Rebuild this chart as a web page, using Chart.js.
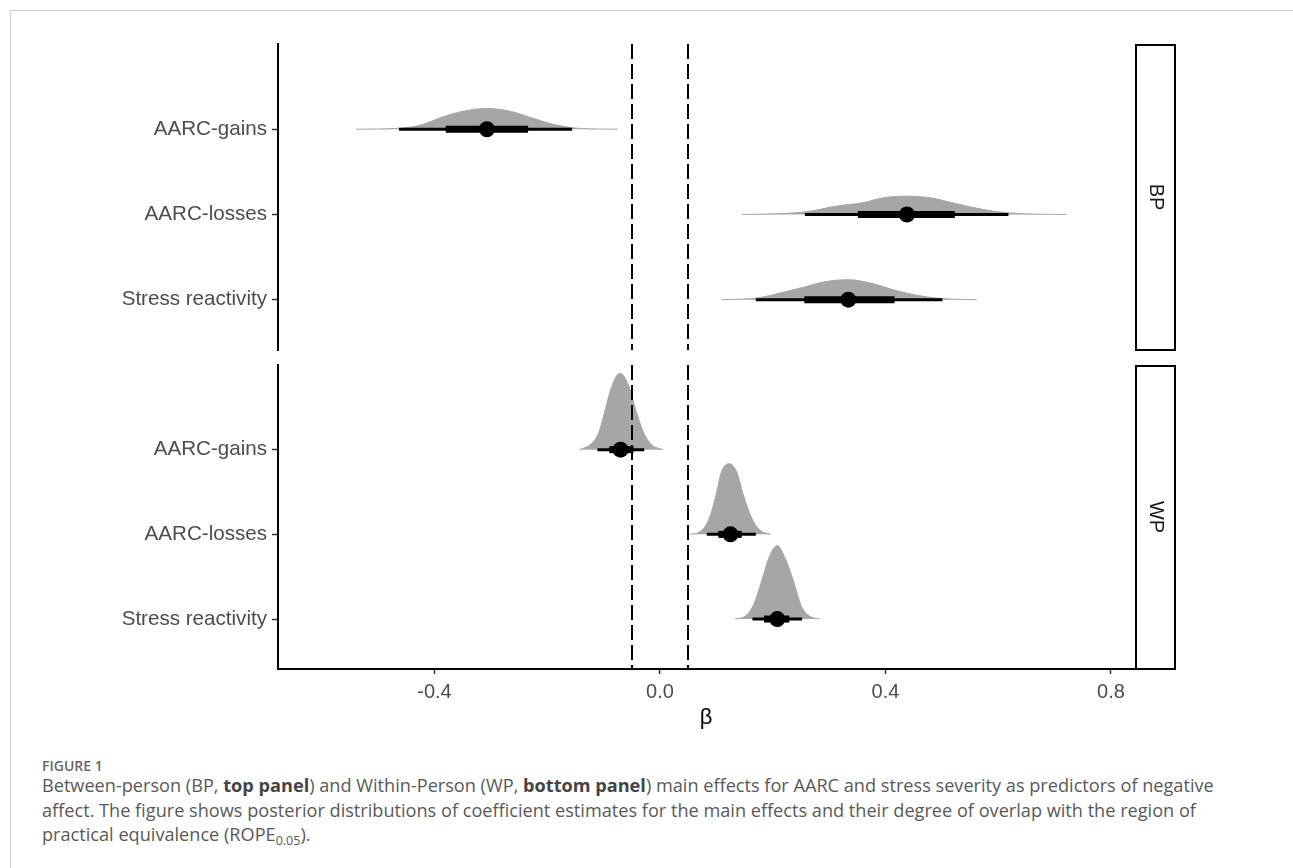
<!DOCTYPE html>
<html><head><meta charset="utf-8">
<script src="https://cdn.jsdelivr.net/npm/chart.js@4"></script>
<style>
body{margin:0;background:#fff;width:1293px;height:868px;overflow:hidden;position:relative;font-family:"Liberation Sans",Arial,sans-serif}
#frame{position:absolute;left:10px;top:10px;width:1300px;height:900px;border-left:1px solid #cfcfcf;border-top:1px solid #cfcfcf}
#c1{position:absolute;left:0;top:0}
#c2{position:absolute;left:0;top:355px}
#fig{position:absolute;left:42px;top:756px;font-family:"Open Sans";font-weight:600;font-size:14px;line-height:19px;color:#666;}
#cap{position:absolute;left:42px;top:773px;font-family:"Open Sans";font-size:18.15px;line-height:24.5px;color:#595959;white-space:nowrap}
#cap b{font-weight:700;color:#444}
#cap sub{font-size:12.5px;vertical-align:-4px;line-height:0}
</style></head>
<body>
<div id="frame"></div>
<canvas id="c1" width="1293" height="358"></canvas>
<canvas id="c2" width="1293" height="380"></canvas>
<div id="fig">FIGURE 1</div>
<div id="cap">Between-person (BP, <b>top panel</b>) and Within-Person (WP, <b>bottom panel</b>) main effects for AARC and stress severity as predictors of negative<br>affect. The figure shows posterior distributions of coefficient estimates for the main effects and their degree of overlap with the region of<br>practical equivalence (ROPE<sub>0.05</sub>).</div>
<script>
const categories = ["AARC-gains", "AARC-losses", "Stress reactivity"];
const catPos = [3, 2, 1];
const panels = ["BP", "WP"];
const xTicks = [-0.4, 0.0, 0.4, 0.8];
const xTickLabels = ["-0.4", "0.0", "0.4", "0.8"];
const xMin = -0.6776, xMax = 0.8408;
const rope = [-0.05, 0.05];

// BP posterior density outlines (x value, height as fraction of row spacing)
const bpGainsX = [-0.539, -0.461, -0.426, -0.385, -0.349, -0.307, -0.266, -0.231, -0.190, -0.147, -0.075];
const bpGainsH = [0, 0.012, 0.047, 0.145, 0.212, 0.244, 0.212, 0.141, 0.059, 0.012, 0];
const bpLossesX = [0.145, 0.207, 0.260, 0.313, 0.360, 0.396, 0.438, 0.479, 0.526, 0.573, 0.615, 0.668, 0.721];
const bpLossesH = [0, 0.008, 0.032, 0.098, 0.138, 0.196, 0.215, 0.196, 0.126, 0.059, 0.020, 0.004, 0];
const bpStressX = [0.109, 0.172, 0.213, 0.254, 0.290, 0.334, 0.373, 0.420, 0.467, 0.514, 0.562];
const bpStressH = [0, 0.020, 0.079, 0.145, 0.208, 0.235, 0.196, 0.106, 0.039, 0.008, 0];
// WP posterior density outlines
const wpGainsX = [-0.143, -0.124, -0.109, -0.098, -0.086, -0.071, -0.056, -0.044, -0.030, -0.015, 0.005];
const wpGainsH = [0, 0.059, 0.196, 0.447, 0.741, 0.902, 0.765, 0.491, 0.215, 0.059, 0];
const wpLossesX = [0.053, 0.071, 0.086, 0.098, 0.109, 0.123, 0.136, 0.148, 0.163, 0.177, 0.196];
const wpLossesH = [0, 0.032, 0.168, 0.424, 0.738, 0.835, 0.738, 0.462, 0.188, 0.051, 0];
const wpStressX = [0.133, 0.151, 0.166, 0.180, 0.195, 0.208, 0.222, 0.237, 0.251, 0.266, 0.283];
const wpStressH = [0, 0.032, 0.168, 0.444, 0.753, 0.867, 0.718, 0.444, 0.149, 0.032, 0];

// point estimates and intervals (66% inner, 95% outer)
const bpMedian = [-0.307, 0.438, 0.334];
const bpInnerLo = [-0.380, 0.351, 0.256];
const bpInnerHi = [-0.234, 0.523, 0.416];
const bpOuterLo = [-0.463, 0.257, 0.170];
const bpOuterHi = [-0.156, 0.618, 0.501];
const wpMedian = [-0.070, 0.125, 0.208];
const wpInnerLo = [-0.090, 0.1035, 0.1845];
const wpInnerHi = [-0.047, 0.145, 0.2295];
const wpOuterLo = [-0.111, 0.083, 0.164];
const wpOuterHi = [-0.028, 0.170, 0.252];

const SLAB = '#a6a6a6';
const FONT = "'Liberation Sans', Arial, sans-serif";

function buildDatasets(dx, dh, med, ilo, ihi, olo, ohi) {
  const ds = [];
  for (let i = 0; i < 3; i++) {
    const p = catPos[i];
    ds.push({type: 'line', data: dx[i].map((v, j) => ({x: v, y: p + dh[i][j]})),
      fill: {value: p}, backgroundColor: SLAB, borderColor: SLAB, borderWidth: 1,
      pointRadius: 0, cubicInterpolationMode: 'monotone', order: 4});
    ds.push({type: 'line', data: [{x: olo[i], y: p}, {x: ohi[i], y: p}], borderColor: '#000',
      borderWidth: 3, pointRadius: 0, borderCapStyle: 'butt', fill: false, order: 3});
    ds.push({type: 'line', data: [{x: ilo[i], y: p}, {x: ihi[i], y: p}], borderColor: '#000',
      borderWidth: 7, pointRadius: 0, borderCapStyle: 'butt', fill: false, order: 2});
    ds.push({type: 'scatter', data: [{x: med[i], y: p}], pointRadius: 8, pointHoverRadius: 8,
      backgroundColor: '#000', borderWidth: 0, order: 1});
  }
  return ds;
}

function panelPlugin(label) {
  return {
    id: 'panel' + label,
    afterDatasetsDraw(chart) {
      const {ctx, chartArea: a, scales} = chart;
      ctx.save();
      ctx.strokeStyle = '#000';
      ctx.lineWidth = 2;
      ctx.setLineDash([15, 5]);
      rope.forEach(v => {
        const x = Math.round(scales.x.getPixelForValue(v));
        ctx.beginPath(); ctx.moveTo(x, a.top); ctx.lineTo(x, a.bottom); ctx.stroke();
      });
      ctx.setLineDash([]);
      // strip
      const sx = a.right + 2, sw = 39;
      ctx.strokeRect(sx, a.top + 1, sw, a.bottom - a.top - 1);
      ctx.translate(sx + sw / 2, (a.top + a.bottom) / 2);
      ctx.rotate(Math.PI / 2);
      ctx.fillStyle = '#1a1a1a';
      ctx.font = '20px ' + FONT;
      ctx.textAlign = 'center'; ctx.textBaseline = 'middle';
      ctx.fillText(label, 0, 0);
      ctx.restore();
    }
  };
}

function yAxis() {
  return {type: 'linear', min: 0.41, max: 4.0,
    afterBuildTicks: s => { s.ticks = catPos.map(v => ({value: v})); },
    afterFit: s => { s.width = 278; s.paddingTop = 0; s.paddingBottom = 0; },
    ticks: {callback: v => categories[catPos.indexOf(v)], font: {size: 20.6, family: FONT},
      color: '#4d4d4d', padding: 5, autoSkip: false},
    grid: {display: true, drawOnChartArea: false, tickLength: 6, tickColor: '#333', tickWidth: 1.5},
    border: {display: true, color: '#000', width: 2}};
}

Chart.defaults.animation = false;

new Chart(document.getElementById('c1'), {
  type: 'scatter',
  data: {datasets: buildDatasets([bpGainsX, bpLossesX, bpStressX], [bpGainsH, bpLossesH, bpStressH],
    bpMedian, bpInnerLo, bpInnerHi, bpOuterLo, bpOuterHi)},
  options: {responsive: false, animation: false, devicePixelRatio: 1,
    layout: {padding: {top: 44, right: 1293 - 1134, bottom: 0, left: 0}},
    plugins: {legend: {display: false}, tooltip: {enabled: false}},
    scales: {x: {type: 'linear', display: false, min: xMin, max: xMax}, y: yAxis()}},
  plugins: [panelPlugin(panels[0])]
});

new Chart(document.getElementById('c2'), {
  type: 'scatter',
  data: {datasets: buildDatasets([wpGainsX, wpLossesX, wpStressX], [wpGainsH, wpLossesH, wpStressH],
    wpMedian, wpInnerLo, wpInnerHi, wpOuterLo, wpOuterHi)},
  options: {responsive: false, animation: false, devicePixelRatio: 1,
    layout: {padding: {top: 365 - 355, right: 1293 - 1134, bottom: 0, left: 0}},
    plugins: {legend: {display: false}, tooltip: {enabled: false}},
    scales: {
      x: {type: 'linear', min: xMin, max: xMax,
        afterBuildTicks: s => { s.ticks = xTicks.map(v => ({value: v})); },
        afterFit: s => { s.height = 380 - (669 - 355); s.paddingLeft = 0; s.paddingRight = 0; },
        ticks: {callback: v => xTickLabels[xTicks.indexOf(v)], font: {size: 20, family: FONT},
          color: '#4d4d4d', padding: 6, autoSkip: false, maxRotation: 0},
        grid: {display: true, drawOnChartArea: false, tickLength: 5, tickColor: '#333', tickWidth: 1.5},
        border: {display: true, color: '#000', width: 2},
        title: {display: true, text: 'β', font: {size: 22, family: FONT}, color: '#000', padding: {top: 0, bottom: 4}}},
      y: yAxis()}},
  plugins: [panelPlugin(panels[1])]
});
</script>
</body></html>
